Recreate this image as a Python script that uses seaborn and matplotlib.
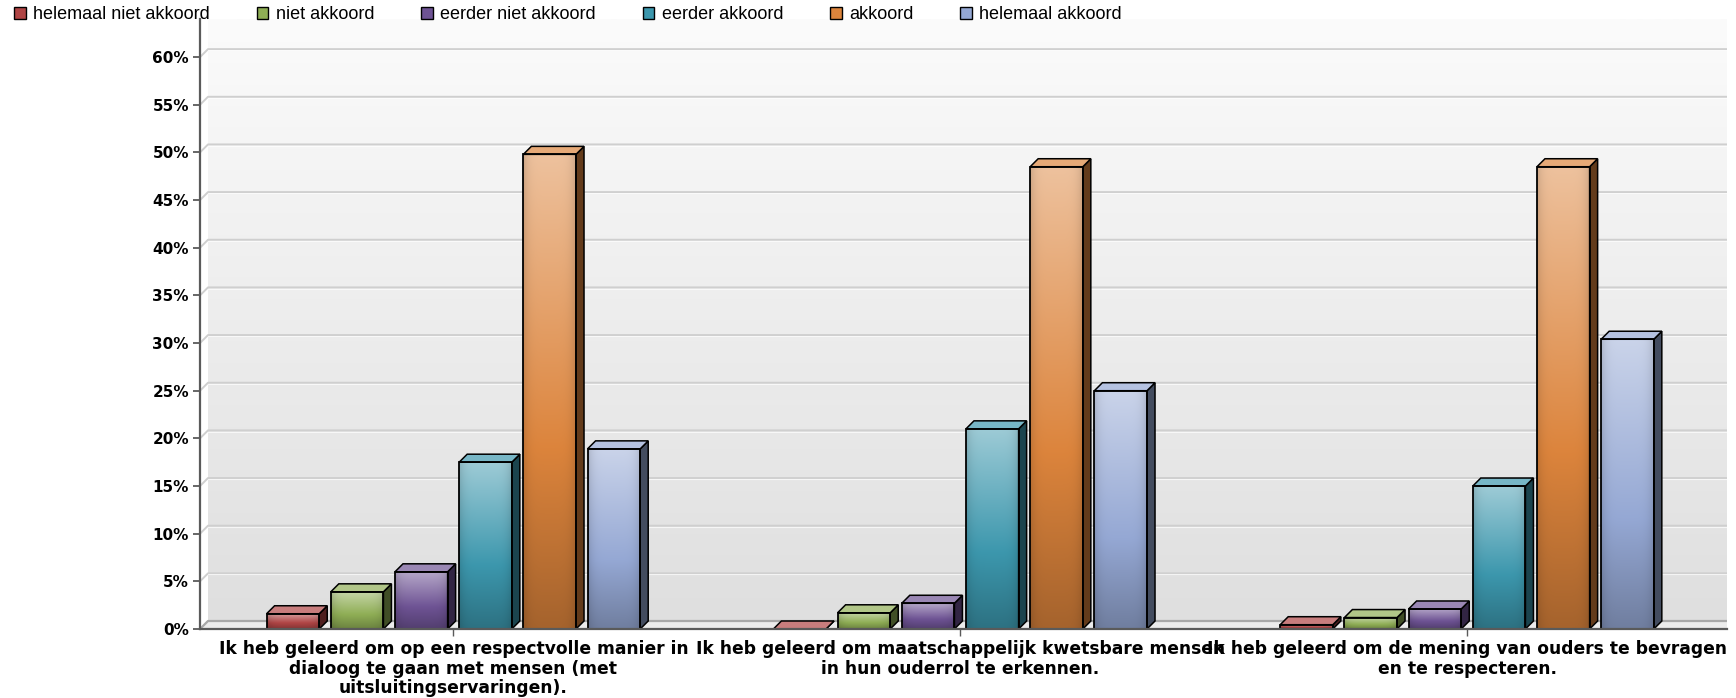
import numpy as np
import pandas as pd
import matplotlib
matplotlib.use("Agg")
import matplotlib.pyplot as plt
import seaborn as sns
from matplotlib.patches import Polygon, Patch
from matplotlib.colors import to_rgb, LinearSegmentedColormap
from matplotlib.font_manager import FontProperties

# ---------------- data ----------------
categories = [
    "Ik heb geleerd om op een respectvolle manier in\ndialoog te gaan met mensen (met\nuitsluitingservaringen).",
    "Ik heb geleerd om maatschappelijk kwetsbare mensen\nin hun ouderrol te erkennen.",
    "Ik heb geleerd om de mening van ouders te bevragen\nen te respecteren.",
]
levels = ["helemaal niet akkoord", "niet akkoord", "eerder niet akkoord",
          "eerder akkoord", "akkoord", "helemaal akkoord"]
helemaal_niet_akkoord = [1.6, 0.0, 0.45]
niet_akkoord = [3.9, 1.7, 1.2]
eerder_niet_akkoord = [6.0, 2.7, 2.1]
eerder_akkoord = [17.5, 21.0, 15.0]
akkoord = [49.8, 48.5, 48.5]
helemaal_akkoord = [18.9, 25.0, 30.4]
y_ticks = [0, 5, 10, 15, 20, 25, 30, 35, 40, 45, 50, 55, 60]

series = [helemaal_niet_akkoord, niet_akkoord, eerder_niet_akkoord,
          eerder_akkoord, akkoord, helemaal_akkoord]
colors = ["#b04545", "#8fae55", "#6e5394", "#3c97ad", "#dc843c", "#95a8d4"]

df = pd.DataFrame({
    "vraag": [c for s in series for c in categories],
    "antwoord": [lv for lv, s in zip(levels, series) for _ in s],
    "pct": [v for s in series for v in s],
})

# ---------------- figure ----------------
sns.set_theme(style="white")
plt.rcParams["font.family"] = ["DejaVu Sans"]
plt.rcParams["text.color"] = "black"
plt.rcParams["xtick.color"] = "black"
plt.rcParams["ytick.color"] = "black"

W, H = 1736, 698
fig = plt.figure(figsize=(W / 100, H / 100), dpi=100)
left_px, right_px, base_px, top_px = 200, 1727, 629, 19
ax = fig.add_axes([left_px / W, (H - base_px) / H,
                   (right_px - left_px) / W, (base_px - top_px) / H])
ax.set_facecolor("white")

XMIN, XMAX = -0.5, 2.513
YMAX = 64
cat_px = (right_px - left_px) / (XMAX - XMIN)
pct_px = (base_px - top_px) / YMAX
dx = 8 / cat_px
dy = 8 / pct_px

sns.barplot(data=df, x="vraag", y="pct", hue="antwoord", hue_order=levels,
            order=categories, palette=colors, width=0.76, gap=0.18,
            ax=ax, legend=False, saturation=1)


def mix(c, other, t):
    c = np.array(to_rgb(c)); o = np.array(to_rgb(other))
    return (1 - t) * c + t * o


# back wall gradient
bg = LinearSegmentedColormap.from_list("bg", ["#fbfbfb", "#dfdfdf"])
ax.imshow(np.linspace(0, 1, 256).reshape(-1, 1), cmap=bg, aspect="auto",
          extent=(XMIN + dx, XMAX, dy, YMAX), origin="upper", zorder=0)

# floor
ax.add_patch(Polygon([(XMIN, 0), (XMIN + dx, dy), (XMAX, dy), (XMAX, 0)],
                     closed=True, facecolor="#ececec", edgecolor="none", zorder=0.5))
ax.plot([XMIN, XMIN + dx, XMAX], [0, dy, dy], color="#a8a8a8", lw=1.6, zorder=1)

# grid lines on the back wall
for v in y_ticks[1:]:
    ax.plot([XMIN, XMIN + dx, XMAX], [v, v + dy, v + dy], color="#cfcfcf",
            lw=1.4, zorder=1, solid_capstyle="butt")
    ax.plot([XMIN + dx, XMAX], [v + dy - 0.12, v + dy - 0.12], color="#ffffff",
            lw=0.8, zorder=1, alpha=0.7)

# 3D bars
nv, nh = 200, 40
tv = np.linspace(0, 1, nv)
uh = np.linspace(0, 1, nh)
hshade = 1 - 0.13 * np.abs(2 * uh - 1) ** 5
for cont, col in zip(ax.containers, colors):
    light = mix(col, "white", 0.5)
    base = np.array(to_rgb(col))
    dark = mix(col, "black", 0.25)
    side = mix(col, "black", 0.55)
    topc = mix(col, "white", 0.3)
    a = np.clip(tv / 0.62, 0, 1)[:, None]
    b = np.clip((tv - 0.62) / 0.38, 0, 1)[:, None]
    grad = np.where(tv[:, None] < 0.62, light + (base - light) * a, base + (dark - base) * b)
    img = np.clip(grad[:, None, :] * hshade[None, :, None], 0, 1)  # (nv, nh, 3)
    for bar in cont:
        x, w, h = bar.get_x(), bar.get_width(), bar.get_height()
        if h > 0:
            ax.imshow(img, extent=(x, x + w, 0, h), aspect="auto",
                      origin="upper", zorder=3, interpolation="bilinear")
        bar.set_facecolor("none")
        bar.set_edgecolor("black")
        bar.set_linewidth(1.3)
        bar.set_zorder(4)
        ax.add_patch(Polygon([(x + w, 0), (x + w + dx, dy), (x + w + dx, h + dy), (x + w, h)],
                             closed=True, facecolor=side, edgecolor="black",
                             lw=1.1, zorder=3.5))
        ax.add_patch(Polygon([(x, h), (x + dx, h + dy), (x + w + dx, h + dy), (x + w, h)],
                             closed=True, facecolor=topc, edgecolor="black",
                             lw=1.1, zorder=3.5))

ax.set_xlim(XMIN, XMAX)
ax.set_ylim(0, YMAX)

# axes styling
for s in ["top", "right"]:
    ax.spines[s].set_visible(False)
ax.spines["left"].set_color("#5a5a5a")
ax.spines["left"].set_linewidth(1.6)
ax.spines["bottom"].set_color("#5a5a5a")
ax.spines["bottom"].set_linewidth(1.6)
ax.spines["left"].set_zorder(5)
ax.spines["bottom"].set_zorder(5)

ax.set_yticks(y_ticks)
ax.set_yticklabels([f"{v}%" for v in y_ticks], fontsize=11, fontweight="bold",
                   color="black")
ax.tick_params(axis="y", left=True, length=5, width=1.3, color="#5a5a5a", pad=3)
ax.tick_params(axis="x", bottom=True, length=5, width=1.0, color="#5a5a5a", pad=3)
ax.set_xticks(range(len(categories)))
ax.set_xticklabels(categories, fontsize=12.3, fontweight="bold", linespacing=1.1,
                   ha="center", va="top", color="black")
ax.set_xlabel("")
ax.set_ylabel("")
ax.grid(False)

# legend
handles = [Patch(facecolor=c, edgecolor="black", lw=1.0) for c in colors]
fig.legend(handles, levels, loc="upper left", bbox_to_anchor=(0.0065, 0.995),
           ncol=6, frameon=False, prop=FontProperties(family="Liberation Sans", size=13),
           handlelength=0.65, handleheight=0.65, handletextpad=0.4,
           columnspacing=2.6, borderaxespad=0.0, borderpad=0.15,
           labelcolor="black")

fig.savefig("out.png", dpi=100, facecolor="white")
